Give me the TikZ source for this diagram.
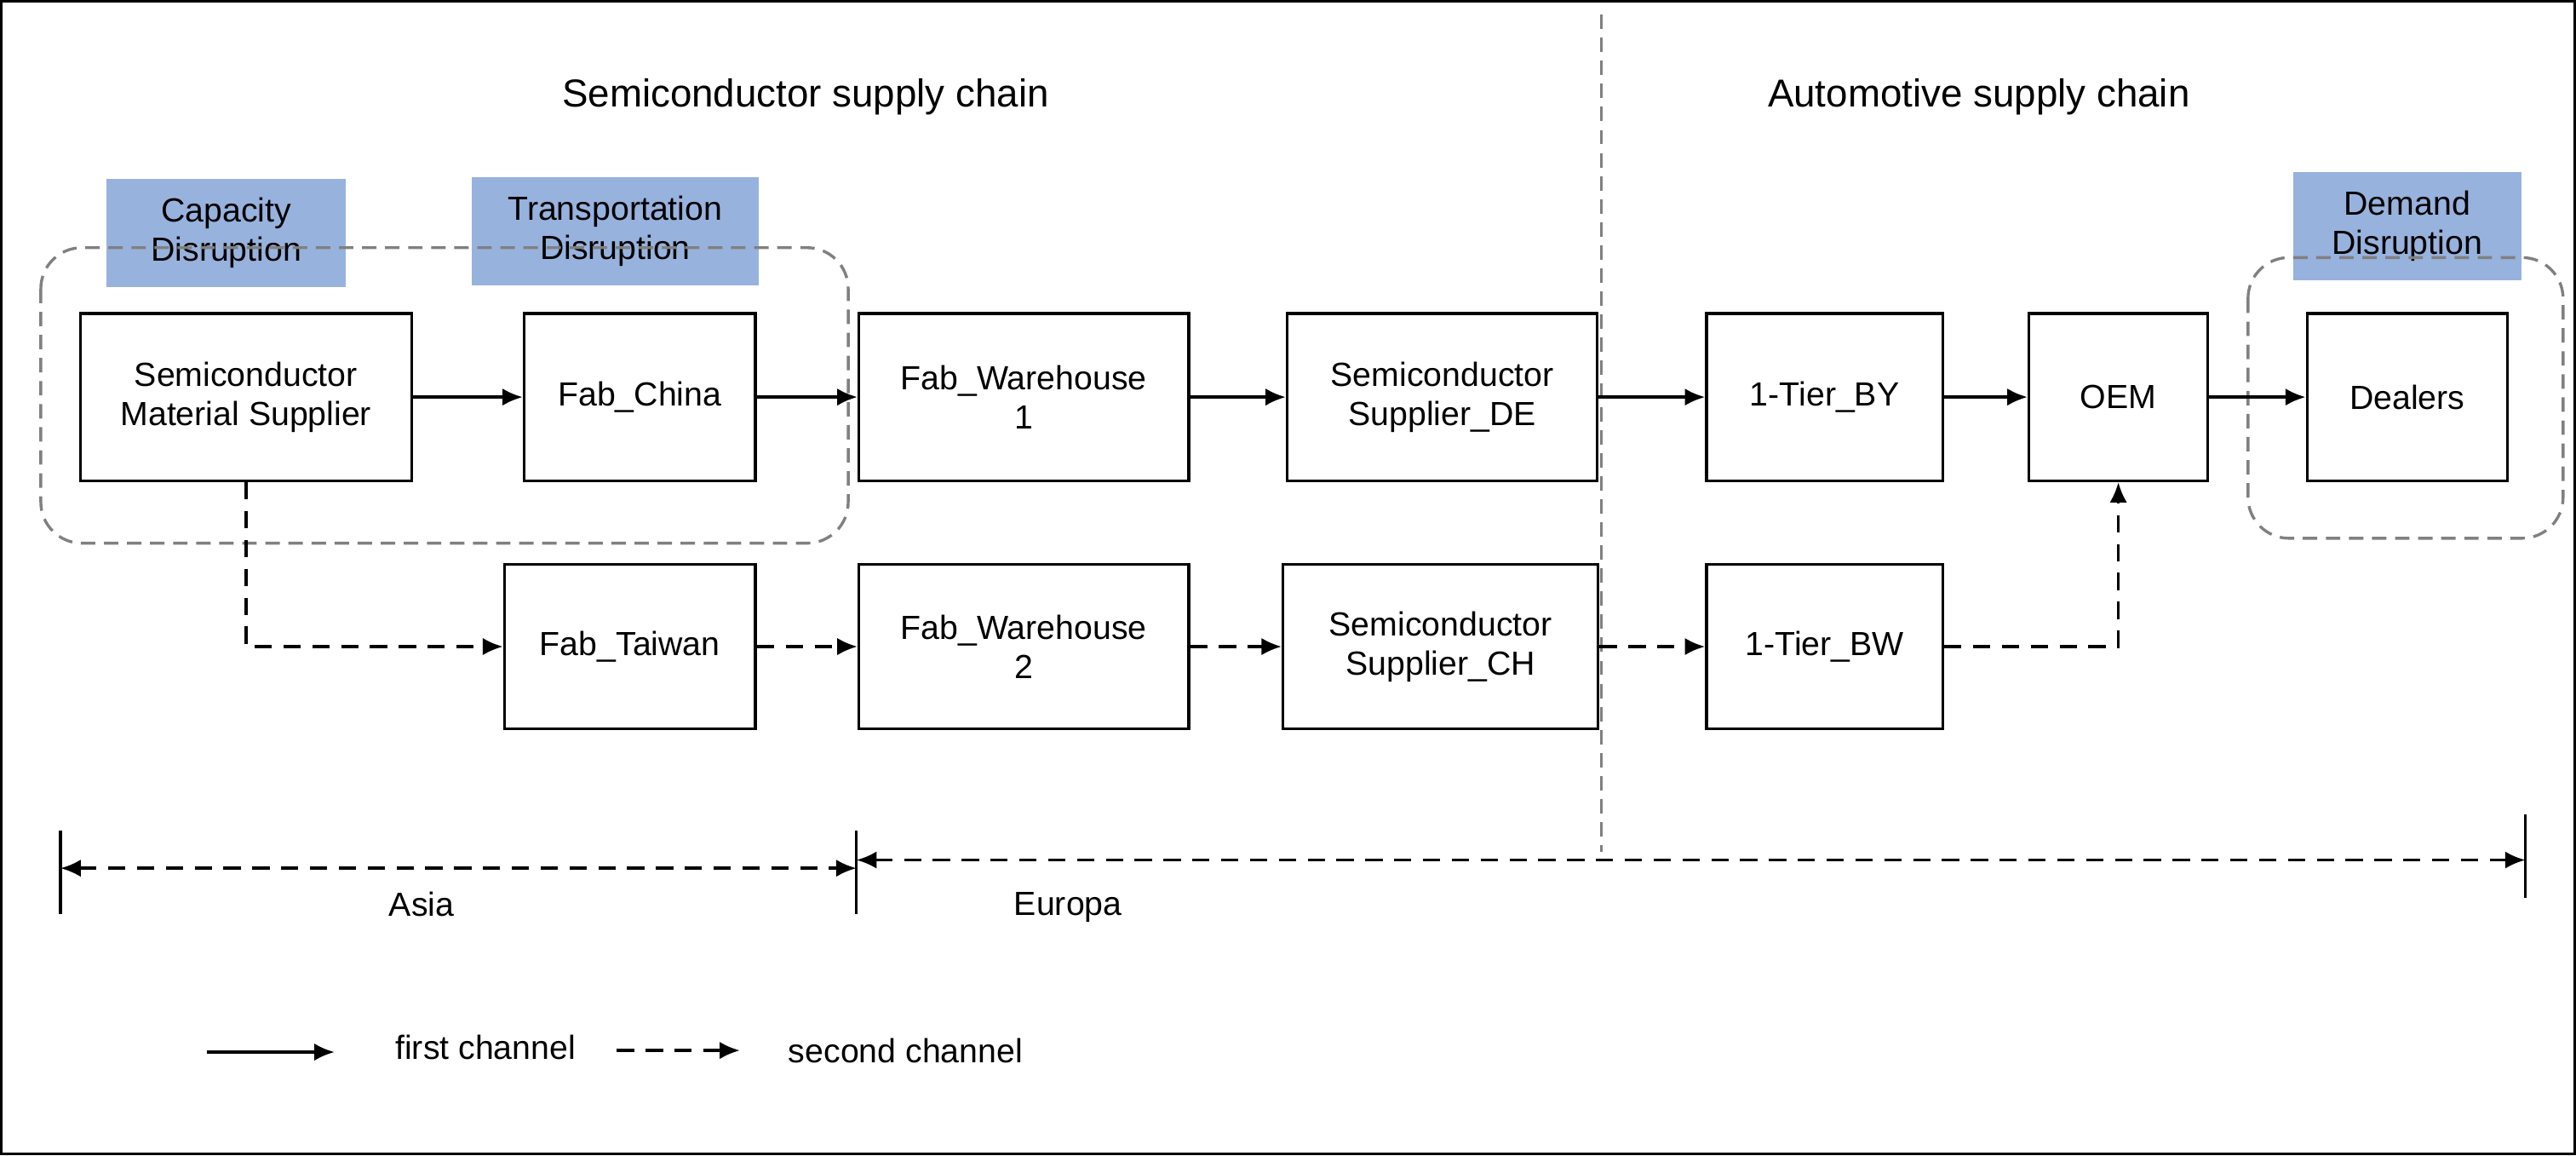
\documentclass[tikz,border=0pt]{standalone}
\usepackage{fontspec}
\setmainfont{Liberation Sans}
\usetikzlibrary{arrows.meta,positioning}
\definecolor{disblue}{HTML}{97B2DD}
\tikzset{
  txt/.style={font=\fontsize{11.6}{13.6}\selectfont},
  box/.style={draw, line width=1pt, align=center, txt, minimum height=2.04cm},
  dis/.style={fill=disblue, align=center, txt, minimum height=1.32cm},
  zone/.style={draw=gray, dash pattern=on 5pt off 3pt, line width=1pt, rounded corners=0.5cm},
  first/.style={-{Latex[length=7pt,width=6pt]}, line width=1pt},
  second/.style={first, dash pattern=on 6pt off 4pt},
}
\begin{document}
\begin{tikzpicture}[x=0.02cm, y=-0.02cm]
    % Frame
    \draw[line width=1pt] (0,0) rectangle (1568,702);
    \useasboundingbox (0,0) rectangle (1568,702);

    % Titles and divider
    \node[font=\fontsize{13.5}{16}\selectfont] (semititle) at (490,58) {Semiconductor supply chain};
    \node[font=\fontsize{13.5}{16}\selectfont] (autotitle) at (1205,58) {Automotive supply chain};
    \draw[gray, dash pattern=on 5pt off 3pt, line width=0.8pt] (975,8) -- (975,518);

    % Disruption labels
    \node[dis, minimum width=2.92cm] (capdis) at (137,141) {Capacity\\Disruption};
    \node[dis, minimum width=3.5cm] (transdis) at (374,140) {Transportation\\Disruption};
    \node[dis, minimum width=2.78cm] (demdis) at (1466,137) {Demand\\Disruption};

    % Disruption zones
    \draw[zone] (24,150) rectangle (516,330);
    \draw[zone] (1369,156) rectangle (1561,327);

    % First channel
    \node[box, minimum width=4.04cm] (supplier) at (149,241) {Semiconductor\\Material Supplier};
    \node[box, minimum width=2.82cm] (china) at (389,241) {Fab\_China};
    \node[box, minimum width=4.02cm] (wh1) at (623,241) {Fab\_Warehouse\\1};
    \node[box, minimum width=3.78cm] (supde) at (878,241) {Semiconductor\\Supplier\_DE};
    \node[box, minimum width=2.88cm] (tierby) at (1111,241) {1-Tier\_BY};
    \node[box, minimum width=2.18cm] (oem) at (1290,241) {OEM};
    \node[box, minimum width=2.44cm] (dealers) at (1466,241) {Dealers};

    % Second channel
    \node[box, minimum width=3.06cm, minimum height=2cm] (taiwan) at (383,393) {Fab\_Taiwan};
    \node[box, minimum width=4.02cm, minimum height=2cm] (wh2) at (623,393) {Fab\_Warehouse\\2};
    \node[box, minimum width=3.84cm, minimum height=2cm] (supch) at (877,393) {Semiconductor\\Supplier\_CH};
    \node[box, minimum width=2.88cm, minimum height=2cm] (tierbw) at (1111,393) {1-Tier\_BW};

    % Connectors
    \draw[first] (supplier) -- (china);
    \draw[first] (china) -- (wh1);
    \draw[first] (wh1) -- (supde);
    \draw[first] (supde) -- (tierby);
    \draw[first] (tierby) -- (oem);
    \draw[first] (oem) -- (dealers);
    \draw[second] (supplier.south) |- (taiwan.west);
    \draw[second] (taiwan) -- (wh2);
    \draw[second] (wh2) -- (supch);
    \draw[second] (supch) -- (tierbw);
    \draw[second] (tierbw.east) -| (oem.south);

    % Regions
    \coordinate (asiaL) at (36,528);
    \coordinate (asiaR) at (521,528);
    \coordinate (euL) at (521,523);
    \coordinate (euR) at (1538,523);
    \draw[line width=1pt] (36,505) -- (36,556);
    \draw[line width=1pt] (521,505) -- (521,556);
    \draw[line width=1pt] (1538,495) -- (1538,546);
    \draw[second, {Latex[length=7pt,width=6pt]}-{Latex[length=7pt,width=6pt]}] (asiaL) -- (asiaR);
    \draw[second, {Latex[length=7pt,width=6pt]}-{Latex[length=7pt,width=6pt]}] (euL) -- (euR);
    \node[txt] (asia) at (256,550) {Asia};
    \node[txt] (europa) at (650,552) {Europa};

    % Legend
    \coordinate (l1a) at (125,640);
    \coordinate (l1b) at (203,640);
    \coordinate (l2a) at (375,639);
    \coordinate (l2b) at (450,639);
    \draw[first] (l1a) -- (l1b);
    \draw[second] (l2a) -- (l2b);
    \node[txt] (firstlbl) at (295,637) {first channel};
    \node[txt] (secondlbl) at (551,639) {second channel};
\end{tikzpicture}
\end{document}
